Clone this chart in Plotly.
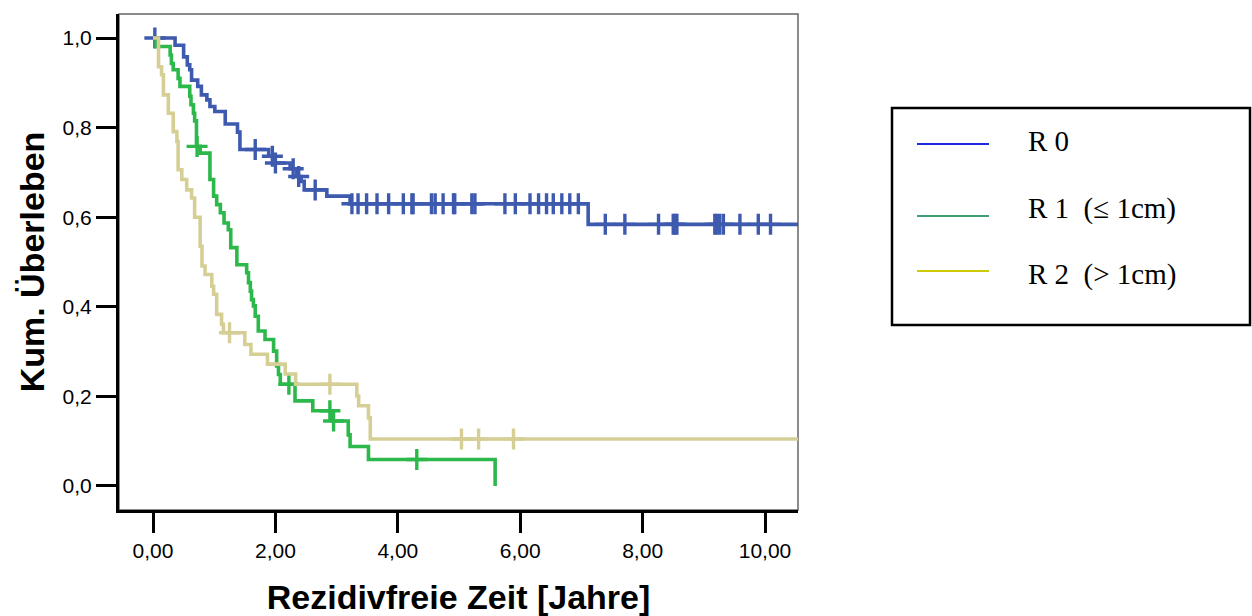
import numpy as np
import plotly.graph_objects as go

# ---------------- data ----------------
# Kaplan-Meier step curves: time of each step (years) and survival after it
r0_t = [0.00, 0.36, 0.50, 0.56, 0.60, 0.63, 0.73, 0.79, 0.88, 0.93, 1.01, 1.18, 1.38,
        1.42, 1.89, 1.99, 2.24, 2.35, 2.42, 2.47, 2.84, 3.22, 7.11]
r0_s = [1.000, 0.984, 0.958, 0.940, 0.929, 0.906, 0.892, 0.873, 0.862, 0.847, 0.836,
        0.808, 0.790, 0.751, 0.736, 0.721, 0.708, 0.691, 0.680, 0.661, 0.647, 0.630, 0.584]
r0_end = 10.65
r0_cens = [0.03, 1.67, 1.95, 2.00, 2.29, 2.38, 2.65, 3.25, 3.35, 3.49, 3.66, 3.85, 4.09,
           4.23, 4.25, 4.55, 4.61, 4.74, 4.91, 4.93, 5.21, 5.26, 5.75, 5.92, 6.16, 6.30,
           6.43, 6.54, 6.68, 6.81, 6.95, 7.39, 7.71, 8.26, 8.50, 8.53, 8.56, 9.18, 9.21,
           9.26, 9.32, 9.59, 9.89, 10.09]

r1_t = [0.00, 0.05, 0.28, 0.30, 0.33, 0.41, 0.44, 0.60, 0.62, 0.66, 0.68, 0.71, 0.77,
        0.93, 0.99, 1.04, 1.10, 1.16, 1.23, 1.27, 1.37, 1.53, 1.56, 1.59, 1.61, 1.64,
        1.67, 1.72, 1.83, 1.97, 2.02, 2.05, 2.08, 2.32, 2.61, 2.93, 3.19, 3.22, 3.52, 5.59]
r1_s = [1.000, 0.981, 0.962, 0.943, 0.929, 0.910, 0.892, 0.870, 0.851, 0.832, 0.815,
        0.758, 0.743, 0.684, 0.647, 0.628, 0.610, 0.587, 0.572, 0.532, 0.494, 0.476,
        0.454, 0.435, 0.416, 0.402, 0.379, 0.346, 0.327, 0.301, 0.268, 0.249, 0.227,
        0.190, 0.168, 0.145, 0.114, 0.088, 0.059, 0.000]
r1_end = 5.59
r1_cens = [0.72, 2.22, 2.89, 2.95, 4.31]

r2_t = [0.00, 0.09, 0.14, 0.17, 0.25, 0.33, 0.39, 0.41, 0.47, 0.55, 0.63, 0.68, 0.77,
        0.80, 0.85, 0.96, 0.99, 1.04, 1.12, 1.15, 1.50, 1.60, 1.87, 2.16, 2.33, 3.33,
        3.36, 3.52, 3.55]
r2_s = [1.000, 0.936, 0.918, 0.873, 0.832, 0.791, 0.769, 0.706, 0.684, 0.661, 0.643,
        0.600, 0.535, 0.491, 0.472, 0.446, 0.428, 0.383, 0.361, 0.342, 0.316, 0.294,
        0.272, 0.250, 0.227, 0.201, 0.179, 0.152, 0.105]
r2_end = 10.65
r2_cens = [1.25, 2.89, 5.04, 5.32, 5.89]

groups = ["R 0", "R 1  (\u2264 1cm)", "R 2  (> 1cm)"]
curve_colors = ["#3E5AAE", "#2DB84B", "#D5CF96"]
legend_colors = ["#1C2BE0", "#3C9E72", "#CDCB08"]

x_tickvals = [0, 2, 4, 6, 8, 10]
x_ticktext = ["0,00", "2,00", "4,00", "6,00", "8,00", "10,00"]
y_tickvals = [0.0, 0.2, 0.4, 0.6, 0.8, 1.0]
y_ticktext = ["0,0", "0,2", "0,4", "0,6", "0,8", "1,0"]

# ---------------- figure ----------------
W, H = 1252, 616
ML, MR, MT, MB = 119, 454, 14, 106
PW, PH = W - ML - MR, H - MT - MB


def px(x):
    return (x - ML) / PW


def py(y):
    return (H - MB - y) / PH


fig = go.Figure()

series = [(r0_t, r0_s, r0_end, r0_cens),
          (r1_t, r1_s, r1_end, r1_cens),
          (r2_t, r2_s, r2_end, r2_cens)]

for (t, s, end, cens), name, col in zip(series, groups, curve_colors):
    xs = list(t) + [end]
    ys = list(s) + [s[-1]]
    fig.add_trace(go.Scatter(x=xs, y=ys, mode="lines", name=name,
                             line=dict(color=col, width=3.6, shape="hv"),
                             showlegend=False, hoverinfo="skip"))
    tt = np.asarray(t)
    ss = np.asarray(s)
    idx = np.searchsorted(tt, np.asarray(cens), side="right") - 1
    fig.add_trace(go.Scatter(x=cens, y=ss[idx], mode="markers", name=name + " zensiert",
                             marker=dict(symbol="cross-thin", size=15,
                                         line=dict(color=col, width=3.4)),
                             showlegend=False, hoverinfo="skip"))

# thin frame (top / right)
fig.add_shape(type="rect", xref="paper", yref="paper", x0=0, x1=1, y0=0, y1=1,
              line=dict(color="#666666", width=1.5), layer="below")

# legend box drawn by hand
fig.add_shape(type="rect", xref="paper", yref="paper",
              x0=px(892), x1=px(1250), y0=py(325), y1=py(108),
              line=dict(color="black", width=2.5))
leg_line_y = [144, 216, 271]
leg_text_y = [141, 208, 274]
for name, col, ly, ty in zip(groups, legend_colors, leg_line_y, leg_text_y):
    fig.add_shape(type="line", xref="paper", yref="paper",
                  x0=px(917), x1=px(989), y0=py(ly), y1=py(ly),
                  line=dict(color=col, width=2))
    fig.add_annotation(xref="paper", yref="paper", x=px(1026), y=py(ty),
                       xanchor="left", yanchor="middle", text=name, showarrow=False,
                       font=dict(family="Liberation Serif", size=29, color="black"))

axis_common = dict(showline=True, linecolor="black", linewidth=3, ticks="outside",
                   ticklen=20, tickwidth=3, tickcolor="black", showgrid=False,
                   zeroline=False, mirror=False,
                   tickfont=dict(family="Liberation Sans", size=21, color="black"))

fig.update_xaxes(range=[-0.556, 10.539], tickvals=x_tickvals, ticktext=x_ticktext,
                 title=dict(text="<b>Rezidivfreie Zeit [Jahre]</b>", standoff=25,
                            font=dict(family="Liberation Sans", size=34, color="black")),
                 **axis_common)
fig.update_yaxes(range=[-0.0536, 1.0536], tickvals=y_tickvals, ticktext=y_ticktext,
                 title=dict(text="<b>Kum. Überleben</b>", standoff=8,
                            font=dict(family="Liberation Sans", size=34, color="black")),
                 **axis_common)

fig.update_layout(width=W, height=H, margin=dict(l=ML, r=MR, t=MT, b=MB, autoexpand=False),
                  plot_bgcolor="white", paper_bgcolor="white", showlegend=False)

fig.write_html("out.html")
